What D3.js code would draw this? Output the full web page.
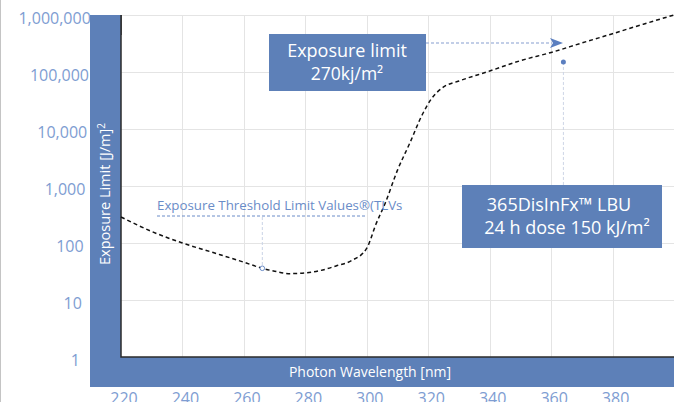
<!DOCTYPE html>
<html>
<head>
<meta charset="utf-8">
<script src="https://cdn.jsdelivr.net/npm/d3@7"></script>
<style>
  html, body { margin: 0; padding: 0; background: #fff; }
  svg { display: block; font-family: "Open Sans", "Noto Sans", sans-serif; }
</style>
</head>
<body>
<svg id="chart" width="674" height="402"></svg>
<script>
// Wavelength (nm) and ACGIH-style exposure limit (J/m²) along the dashed curve
const wavelengths = [220, 230, 240, 250, 260, 266, 270, 275, 280, 285, 290, 295, 300, 303, 306, 310, 314, 318, 321, 325, 330, 340, 350, 360, 370, 380, 390, 400];
const exposureLimits = [286, 159, 100, 68, 46, 36, 32, 29, 29.8, 33, 39.6, 49, 81, 215, 500, 1900, 5650, 17600, 33600, 54600, 69500, 104000, 158000, 220000, 323000, 470000, 690000, 1000000];

// Axis ticks
const xTicks = [220, 240, 260, 280, 300, 320, 340, 360, 380];
const xGrid = [240, 260, 280, 300, 320, 340, 360, 380, 400];
const yTicks = [1, 10, 100, 1000, 10000, 100000, 1000000];

// Annotated points
const tlvPoint = { nm: 266, value: 36 };
const lbuPoint = { nm: 364, value: 150000 };

const blue = "#5d80b8";
const tickBlue = "#7e9dd2";

const svg = d3.select("#chart");

const x = d3.scaleLinear().domain([220, 400]).range([121, 674]);
const y = d3.scaleLog().domain([1, 1e6]).range([357, 15]);

// Left page rule
svg.append("line").attr("x1", 0.5).attr("x2", 0.5).attr("y1", 0).attr("y2", 402)
  .attr("stroke", "#c4c4c4").attr("stroke-width", 1);

// Grid
const grid = svg.append("g").attr("stroke", "#e4e4e4").attr("stroke-width", 1);
grid.selectAll("line.v").data(xGrid).join("line").attr("class", "v")
  .attr("x1", d => Math.round(x(d)) + 0.5).attr("x2", d => Math.round(x(d)) + 0.5)
  .attr("y1", y(1e6)).attr("y2", y(1));
grid.selectAll("line.h").data(yTicks.slice(1)).join("line").attr("class", "h")
  .attr("x1", x(220)).attr("x2", x(400))
  .attr("y1", d => Math.round(y(d)) + 0.5).attr("y2", d => Math.round(y(d)) + 0.5);

// Axis bands
svg.append("rect").attr("x", 90).attr("y", y(1e6)).attr("width", x(220) - 90).attr("height", 387 - y(1e6)).attr("fill", blue);
svg.append("rect").attr("x", 90).attr("y", y(1)).attr("width", 674 - 90).attr("height", 387 - y(1)).attr("fill", blue);

// Axis lines
svg.append("path")
  .attr("d", `M${x(220)},${y(1e6)}V${y(1)}H${x(400)}`)
  .attr("fill", "none").attr("stroke", "#2b2b2b").attr("stroke-width", 1.5);

// Y tick labels
svg.selectAll("text.ytick").data(yTicks).join("text").attr("class", "ytick")
  .attr("x", (d, i) => 80 + 1.8 * i)
  .attr("y", d => y(d) + 3)
  .attr("dy", "0.35em")
  .attr("text-anchor", "end")
  .attr("fill", tickBlue).attr("font-size", 16)
  .text(d => d3.format(",")(d));

// Band drawn again over the top label's tail
svg.append("rect").attr("x", 90).attr("y", y(1e6)).attr("width", x(220) - 90).attr("height", 20).attr("fill", blue);
svg.append("line").attr("x1", x(220)).attr("x2", x(220)).attr("y1", y(1e6)).attr("y2", y(1e6) + 20)
  .attr("stroke", "#2b2b2b").attr("stroke-width", 1.5);

// X tick labels
svg.selectAll("text.xtick").data(xTicks).join("text").attr("class", "xtick")
  .attr("x", d => x(d) + 3)
  .attr("y", 404)
  .attr("text-anchor", "middle")
  .attr("fill", tickBlue).attr("font-size", 16)
  .text(d => d);

// Axis titles
svg.append("text")
  .attr("x", 370).attr("y", 377)
  .attr("text-anchor", "middle").attr("fill", "#fff").attr("font-size", 14)
  .text("Photon Wavelength [nm]");

const yTitle = svg.append("text")
  .attr("transform", "translate(110,194) rotate(-90)")
  .attr("text-anchor", "middle").attr("fill", "#fff").attr("font-size", 14.5);
yTitle.append("tspan").text("Exposure Limit [J/m]");
yTitle.append("tspan").attr("dy", -5).attr("font-size", 10).text("2");

// Exposure curve
const line = d3.line()
  .x((d, i) => x(wavelengths[i]))
  .y(d => y(d))
  .curve(d3.curveMonotoneX);
svg.append("path")
  .datum(exposureLimits)
  .attr("d", line)
  .attr("fill", "none").attr("stroke", "#111").attr("stroke-width", 1.5)
  .attr("stroke-dasharray", "4,3");

// TLV annotation
svg.append("text")
  .attr("x", 157).attr("y", 210)
  .attr("fill", "#6a8cc8").attr("font-size", 13.3)
  .text("Exposure Threshold Limit Values®(TLVs");
svg.append("line").attr("x1", 157).attr("x2", 367).attr("y1", 216).attr("y2", 216)
  .attr("stroke", "#6a8cc8").attr("stroke-width", 1).attr("stroke-dasharray", "3,2");
svg.append("line").attr("x1", x(tlvPoint.nm)).attr("x2", x(tlvPoint.nm))
  .attr("y1", 217).attr("y2", y(tlvPoint.value) - 2.5)
  .attr("stroke", "#c9d3e6").attr("stroke-width", 1).attr("stroke-dasharray", "3,2");
svg.append("circle").attr("cx", x(tlvPoint.nm)).attr("cy", y(tlvPoint.value)).attr("r", 2.3)
  .attr("fill", "#fff").attr("stroke", "#6a8cc8").attr("stroke-width", 1);

// LBU annotation
svg.append("line").attr("x1", x(lbuPoint.nm)).attr("x2", x(lbuPoint.nm))
  .attr("y1", y(lbuPoint.value)).attr("y2", 185)
  .attr("stroke", "#cdd5e6").attr("stroke-width", 1).attr("stroke-dasharray", "3,2");
svg.append("circle").attr("cx", x(lbuPoint.nm)).attr("cy", y(lbuPoint.value)).attr("r", 2.5)
  .attr("fill", "#5b7fc0");

svg.append("rect").attr("x", 462).attr("y", 185).attr("width", 200).attr("height", 63).attr("fill", blue);
svg.append("text").attr("x", 559).attr("y", 211).attr("text-anchor", "middle")
  .attr("fill", "#fff").attr("font-size", 18).text("365DisInFx™ LBU");
svg.append("text").attr("x", 567).attr("y", 234).attr("text-anchor", "middle")
  .attr("fill", "#fff").attr("font-size", 18).text("24 h dose 150 kJ/m²");

// Exposure limit callout with arrow
svg.append("line").attr("x1", 426).attr("x2", 552).attr("y1", 43).attr("y2", 43)
  .attr("stroke", "#aebfe0").attr("stroke-width", 1.5).attr("stroke-dasharray", "3,2");
svg.append("path").attr("d", "M550,38 L563,43 L550,48 L553,43 Z").attr("fill", "#5b7fc0");

svg.append("rect").attr("x", 269).attr("y", 34).attr("width", 157).attr("height", 57).attr("fill", blue);
svg.append("text").attr("x", 347).attr("y", 57).attr("text-anchor", "middle")
  .attr("fill", "#fff").attr("font-size", 18).text("Exposure limit");
svg.append("text").attr("x", 347).attr("y", 80).attr("text-anchor", "middle")
  .attr("fill", "#fff").attr("font-size", 17.5).text("270kj/m²");
</script>
</body>
</html>
